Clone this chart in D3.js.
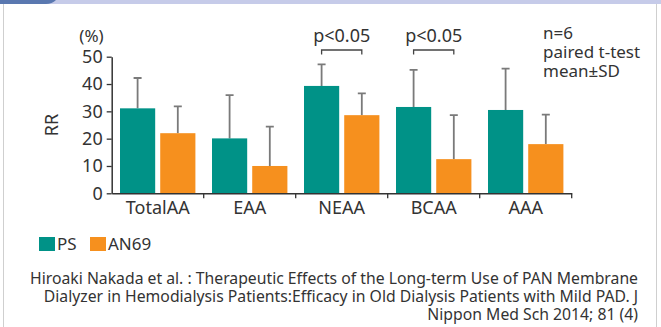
<!DOCTYPE html>
<html>
<head>
<meta charset="utf-8">
<script src="https://cdn.jsdelivr.net/npm/d3@7"></script>
<style>
  body { margin: 0; background: #fff; }
  svg { display: block; font-family: "Noto Sans", sans-serif; }
</style>
</head>
<body>
<div id="chart"></div>
<script>
const categories = ["TotalAA", "EAA", "NEAA", "BCAA", "AAA"];
const series = ["PS", "AN69"];
const psMean = [31.1, 20.1, 39.3, 31.6, 30.5];
const psSD = [11.1, 15.8, 7.9, 13.6, 15.1];
const an69Mean = [22.0, 10.0, 28.6, 12.5, 18.0];
const an69SD = [9.8, 14.4, 8.0, 16.1, 10.8];
const yTicks = [0, 10, 20, 30, 40, 50];
const significant = ["NEAA", "BCAA"];
const notes = ["n=6", "paired t-test", "mean\u00b1SD"];
const citation = [
  "Hiroaki Nakada et al. : Therapeutic Effects of the Long-term Use of PAN Membrane",
  "Dialyzer in Hemodialysis Patients:Efficacy in Old Dialysis Patients with Mild PAD. J",
  "Nippon Med Sch 2014; 81 (4)"
];

const width = 661, height = 327;
const colors = { PS: "#009287", AN69: "#f6901e" };

const svg = d3.select("#chart")
  .append("svg")
    .attr("width", width)
    .attr("height", height);

// frame
svg.append("rect").attr("x", 0).attr("y", 0).attr("width", width).attr("height", 4).attr("fill", "#c6cbe9");
svg.append("path").attr("d", "M0,0H56Q52,4 46,4H0Z").attr("fill", "#5a78b0");
svg.append("line").attr("x1", 3.5).attr("x2", 3.5).attr("y1", 4).attr("y2", height).attr("stroke", "#cfcfcf");
svg.append("line").attr("x1", 656.5).attr("x2", 656.5).attr("y1", 4).attr("y2", height).attr("stroke", "#cfcfcf");

const x0 = d3.scaleBand()
  .domain(categories)
  .range([111.7, 571.7])
  .paddingInner(0)
  .paddingOuter(0);

const x1 = d3.scaleBand()
  .domain(series)
  .range([8.3, x0.bandwidth() - 8.3])
  .paddingInner(0.125)
  .paddingOuter(0);

const y = d3.scaleLinear()
  .domain([0, 50])
  .range([193.3, 56.7]);

const data = categories.map((c, i) => ({
  cat: c,
  values: [
    { key: "PS", mean: psMean[i], sd: psSD[i] },
    { key: "AN69", mean: an69Mean[i], sd: an69SD[i] }
  ]
}));

const g = svg.append("g");

const groups = g.selectAll(".grp")
  .data(data)
  .enter().append("g")
    .attr("transform", d => `translate(${x0(d.cat)},0)`);

// error bars
groups.selectAll(".err")
  .data(d => d.values)
  .enter().append("path")
    .attr("d", d => {
      const cx = x1(d.key) + x1.bandwidth() / 2;
      return `M${cx},${y(d.mean)}V${y(d.mean + d.sd)}M${cx - 4},${y(d.mean + d.sd)}H${cx + 4}`;
    })
    .attr("stroke", "#7a7a7a")
    .attr("stroke-width", 1.8)
    .attr("fill", "none");

groups.selectAll("rect")
  .data(d => d.values)
  .enter().append("rect")
    .attr("x", d => x1(d.key))
    .attr("width", x1.bandwidth())
    .attr("y", d => y(d.mean))
    .attr("height", d => y(0) - y(d.mean))
    .attr("fill", d => colors[d.key]);

// y axis
const yAxis = svg.append("g")
  .attr("transform", "translate(111.7,0)")
  .call(d3.axisLeft(y).tickValues(yTicks).tickSize(5).tickSizeOuter(0));
yAxis.select(".domain").attr("stroke", "#333").attr("stroke-width", 1.5);
yAxis.selectAll(".tick line").attr("stroke", "#333").attr("stroke-width", 1.3);
yAxis.selectAll(".tick text")
  .attr("font-size", 18).attr("fill", "#333").attr("x", -9)
  .attr("font-family", "Noto Sans");

// x axis
const xAxis = svg.append("g")
  .attr("transform", `translate(0,${y(0)})`)
  .call(d3.axisBottom(x0).tickSize(0).tickSizeOuter(0));
xAxis.select(".domain").attr("stroke", "#333").attr("stroke-width", 1.5);
xAxis.selectAll(".tick text")
  .attr("font-size", 18).attr("fill", "#333").attr("dy", 0).attr("y", 21)
  .attr("font-family", "Noto Sans");
xAxis.selectAll(".bound")
  .data(categories)
  .enter().append("line")
    .attr("x1", d => x0(d) + x0.bandwidth())
    .attr("x2", d => x0(d) + x0.bandwidth())
    .attr("y1", 0).attr("y2", 5)
    .attr("stroke", "#333").attr("stroke-width", 1.3);

svg.append("text").attr("x", 91.5).attr("y", 42).attr("text-anchor", "middle")
  .attr("font-size", 17).attr("fill", "#333").text("(%)");

svg.append("text")
  .attr("transform", "translate(58,125) rotate(-90)")
  .attr("text-anchor", "middle")
  .attr("font-size", 18).attr("fill", "#333").text("RR");

// significance brackets
significant.forEach(c => {
  const xa = x0(c) + x1("PS") + x1.bandwidth() / 2;
  const xb = x0(c) + x1("AN69") + x1.bandwidth() / 2;
  svg.append("path")
    .attr("d", `M${xa},54.5V50H${xb}V54.5`)
    .attr("stroke", "#444").attr("stroke-width", 1.3).attr("fill", "none");
  svg.append("text")
    .attr("x", (xa + xb) / 2).attr("y", 42)
    .attr("text-anchor", "middle")
    .attr("font-size", 18).attr("fill", "#333").text("p<0.05");
});

// notes
svg.append("g").selectAll("text")
  .data(notes)
  .enter().append("text")
    .attr("x", 543).attr("y", (d, i) => 39 + i * 19)
    .attr("font-size", 17).attr("fill", "#333").text(d => d);

// legend
const leg = svg.append("g").attr("transform", "translate(39,237)");
const legX = [0, 51];
series.forEach((s, i) => {
  leg.append("rect").attr("x", legX[i]).attr("y", 0).attr("width", 16).attr("height", 14).attr("fill", colors[s]);
  leg.append("text").attr("x", legX[i] + 18).attr("y", 13).attr("font-size", 17).attr("fill", "#333").text(s);
});

// citation
svg.append("g").selectAll("text")
  .data(citation)
  .enter().append("text")
    .attr("x", 638).attr("y", (d, i) => 284 + i * 18)
    .attr("text-anchor", "end")
    .attr("font-size", 15.75).attr("fill", "#333").text(d => d);
</script>
</body>
</html>
